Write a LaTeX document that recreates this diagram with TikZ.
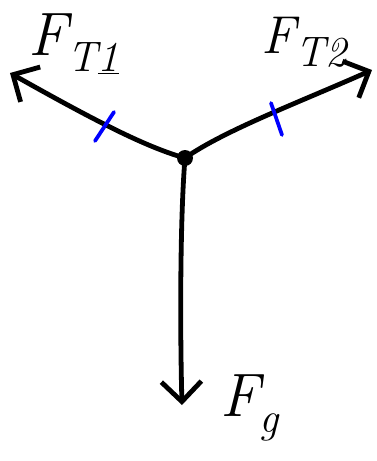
\documentclass[tikz,border=0pt]{standalone}
\usepackage{fontspec}
\usetikzlibrary{arrows.meta}
\tikzset{
  force/.style={line width=3.6pt, line cap=round, -{Straight Barb[length=15pt,width=30pt,line width=3.6pt]}},
  tick/.style={blue, line width=2.8pt, line cap=round},
  lab/.style={font=\fontsize{46}{50}\selectfont\itshape, inner sep=0pt}
}
\newcommand{\subtxt}[1]{\raisebox{-0.25em}{\fontsize{32}{34}\selectfont #1}}
\begin{document}
\begin{tikzpicture}[x=0.75pt,y=-0.75pt]
  \useasboundingbox (0,0) rectangle (376,461);
  \coordinate (C) at (185,158);
  \coordinate (t1) at (10,73);
  \coordinate (t2) at (372,70);
  \coordinate (g) at (182,405);
  % forces
  \draw [force] (C) .. controls (145,147) and (90,118) .. (t1);
  \draw [force] (C) .. controls (225,130) and (300,102) .. (t2);
  \draw [force] (C) .. controls (180,220) and (180,330) .. (g);
  \fill (C) circle (8);
  % marks
  \draw [tick] (95,141) -- (114,112);
  \draw [tick] (271,103) -- (282,135);
  % labels
  \node [lab] (lT1) at (74,44) {F\subtxt{T\underline{1}}};
  \node [lab, font=\fontsize{40}{44}\selectfont\itshape] (lT2) at (304,42) {F\subtxt{T2}};
  \node [lab] (lg) at (250,408) {F\subtxt{g}};
\end{tikzpicture}
\end{document}
